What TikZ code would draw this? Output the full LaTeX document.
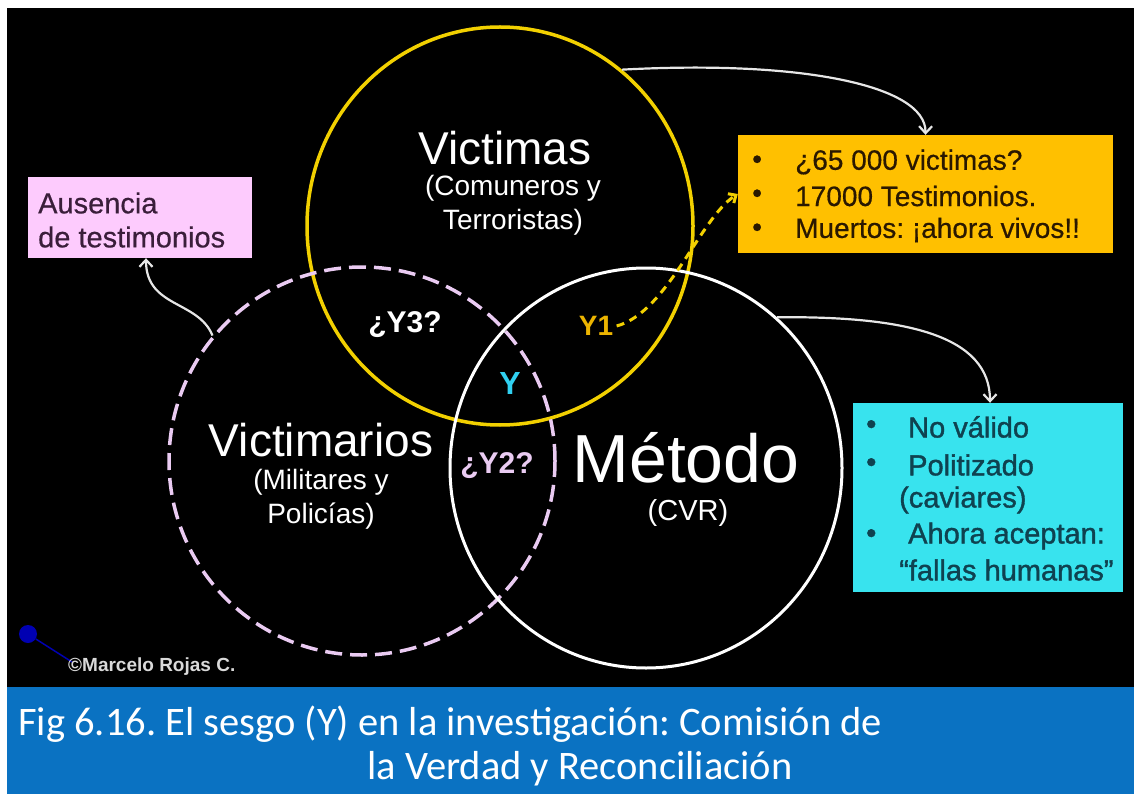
\documentclass[tikz,border=0pt]{standalone}
\usepackage{fontspec}
\setmainfont{Liberation Sans}
\newfontfamily\capfont{Carlito}
\newfontfamily\semib[FakeBold=1.3]{Liberation Sans}
\newfontfamily\semil[FakeBold=0.5]{Liberation Sans}
\usetikzlibrary{shapes.geometric,arrows.meta}
\definecolor{ygold}{HTML}{F2D000}
\definecolor{lav}{HTML}{EACBF2}
\definecolor{orbox}{HTML}{FFC000}
\definecolor{cybox}{HTML}{38E3EE}
\definecolor{pkbox}{HTML}{FDCBFD}
\definecolor{capblue}{HTML}{0A72C2}
\definecolor{yonetxt}{HTML}{ECB400}
\definecolor{ycyan}{HTML}{30D0F0}
\definecolor{cytxt}{HTML}{0F4250}
\definecolor{ortxt}{HTML}{2A1800}
\definecolor{pktxt}{HTML}{3A1E3A}
\definecolor{arrw}{HTML}{E6E6E6}
\newcommand{\fsz}[2]{\fontsize{#1}{#2}\selectfont}
\frenchspacing
\tikzset{
  vennc/.style={ellipse, inner sep=0pt, line width=3.5pt},
  bigtxt/.style={text=white, font=\fsz{46}{50}},
  subtxt/.style={text=white, align=center, font=\fsz{28}{34}},
  ylab/.style={font=\bfseries\fsz{30}{32}},
  warrow/.style={draw=arrw, line width=2.2pt, -{Straight Barb[length=7pt,width=13pt]}},
  boxitem/.style={anchor=west, inner sep=0pt},
}
\begin{document}
\begin{tikzpicture}[x=1pt,y=-1pt]
\useasboundingbox (0,0) rectangle (1134,794);
\fill[white] (0,0) rectangle (1134,794);
\fill[black] (7,8) rectangle (1134,687);
\fill[capblue] (7,687) rectangle (1134,794);

% circles
\node[vennc, draw=ygold, minimum width=386pt, minimum height=398pt] (vic) at (500,226) {};
\node[vennc, draw=lav, dash pattern=on 17pt off 8pt, minimum width=386pt, minimum height=388pt] (vrios) at (362,461) {};
\node[vennc, draw=white, line width=3pt, minimum width=392pt, minimum height=400pt] (met) at (646,468) {};

% circle labels
\node[bigtxt] (tvic) at (505,148) {Victimas};
\node[subtxt] (svic) at (513,205) {(Comuneros y\\Terroristas)};
\node[bigtxt] (tvrios) at (321,440) {Victimarios};
\node[subtxt] (svrios) at (321,499) {(Militares y\\Policías)};
\node[text=white, font=\fsz{68}{70}] (tmet) at (686,458) {Método};
\node[text=white, font=\fsz{29}{32}] (smet) at (688,513) {(CVR)};

% bias labels
\node[ylab, text=white] (y3) at (405,325) {¿Y3?};
\node[ylab, text=yonetxt, font=\bfseries\fsz{28}{30}] (y1) at (596,326) {Y1};
\node[ylab, text=ycyan, font=\bfseries\fsz{32}{34}] (y) at (510,383) {Y};
\node[ylab, text=lav] (y2) at (497,466) {¿Y2?};

% pink box
\node[fill=pkbox, minimum width=224pt, minimum height=81pt, inner sep=0pt] (pbox) at (140,217.5) {};
\node[boxitem, text=pktxt, font=\semil\fsz{29}{34}, align=left] (ptxt) at (38,220) {Ausencia\\de testimonios};

% orange box
\node[fill=orbox, minimum width=375pt, minimum height=118pt, inner sep=0pt] (obox) at (925.5,194) {};
\begin{scope}[every node/.style={boxitem, text=ortxt, font=\semil\fsz{28}{30}}]
\node (ob1) at (752,162) {•};
\node (o1) at (795,162) {¿65 000 victimas?};
\node (ob2) at (752,196) {•};
\node (o2) at (795,196) {17000 Testimonios.};
\node (ob3) at (752,230) {•};
\node (o3) at (795,230) {Muertos: ¡ahora vivos!!};
\end{scope}

% cyan box
\node[fill=cybox, minimum width=270pt, minimum height=189pt, inner sep=0pt] (cbox) at (988,497.5) {};
\begin{scope}[every node/.style={boxitem, text=cytxt, font=\semib\fsz{29}{31}}]
\node (cb1) at (866,427) {•};
\node (c1) at (908,427) {No válido};
\node (cb2) at (866,465) {•};
\node (c2) at (908,465) {Politizado};
\node (c3) at (899,500) {(caviares)};
\node (cb4) at (866,536) {•};
\node (c4) at (908,536) {Ahora aceptan:};
\node (c5) at (899,570) {“fallas humanas”};
\end{scope}

% connectors
\draw[warrow] (vic.52) .. controls (800,60) and (926,85) .. (obox.north);
\draw[warrow] (met.49) .. controls (905,316) and (990,335) .. ([xshift=2pt]cbox.north);
\draw[warrow] (vrios.140) .. controls (198,300) and (146,308) .. ([xshift=6pt]pbox.south);
\draw[draw=ygold, line width=3pt, dash pattern=on 8pt off 6pt, -{Straight Barb[length=6pt,width=11pt]}]
  (y1.east) .. controls (668,312) and (700,218) .. (obox.west);

% copyright
\node[circle, fill=blue!70!black, inner sep=0pt, minimum size=18pt] (dot) at (28,634) {};
\coordinate (dotend) at (72,662);
\draw[blue!70!black, line width=1.5pt] (dot) -- (dotend);
\node[anchor=west, text=black!15, font=\bfseries\fsz{19}{20}, inner sep=0pt] (copy) at (68,667) {©Marcelo Rojas C.};

% caption
\node[anchor=base west, text=white, font=\capfont\fsz{40.5}{44}, inner sep=0pt] (cap1) at (18,735) {Fig 6.16. El sesgo (Y) en la investigación: Comisión de};
\node[anchor=base west, text=white, font=\capfont\fsz{40.5}{44}, inner sep=0pt] (cap2) at (367,779) {la Verdad y Reconciliación};
\end{tikzpicture}
\end{document}
